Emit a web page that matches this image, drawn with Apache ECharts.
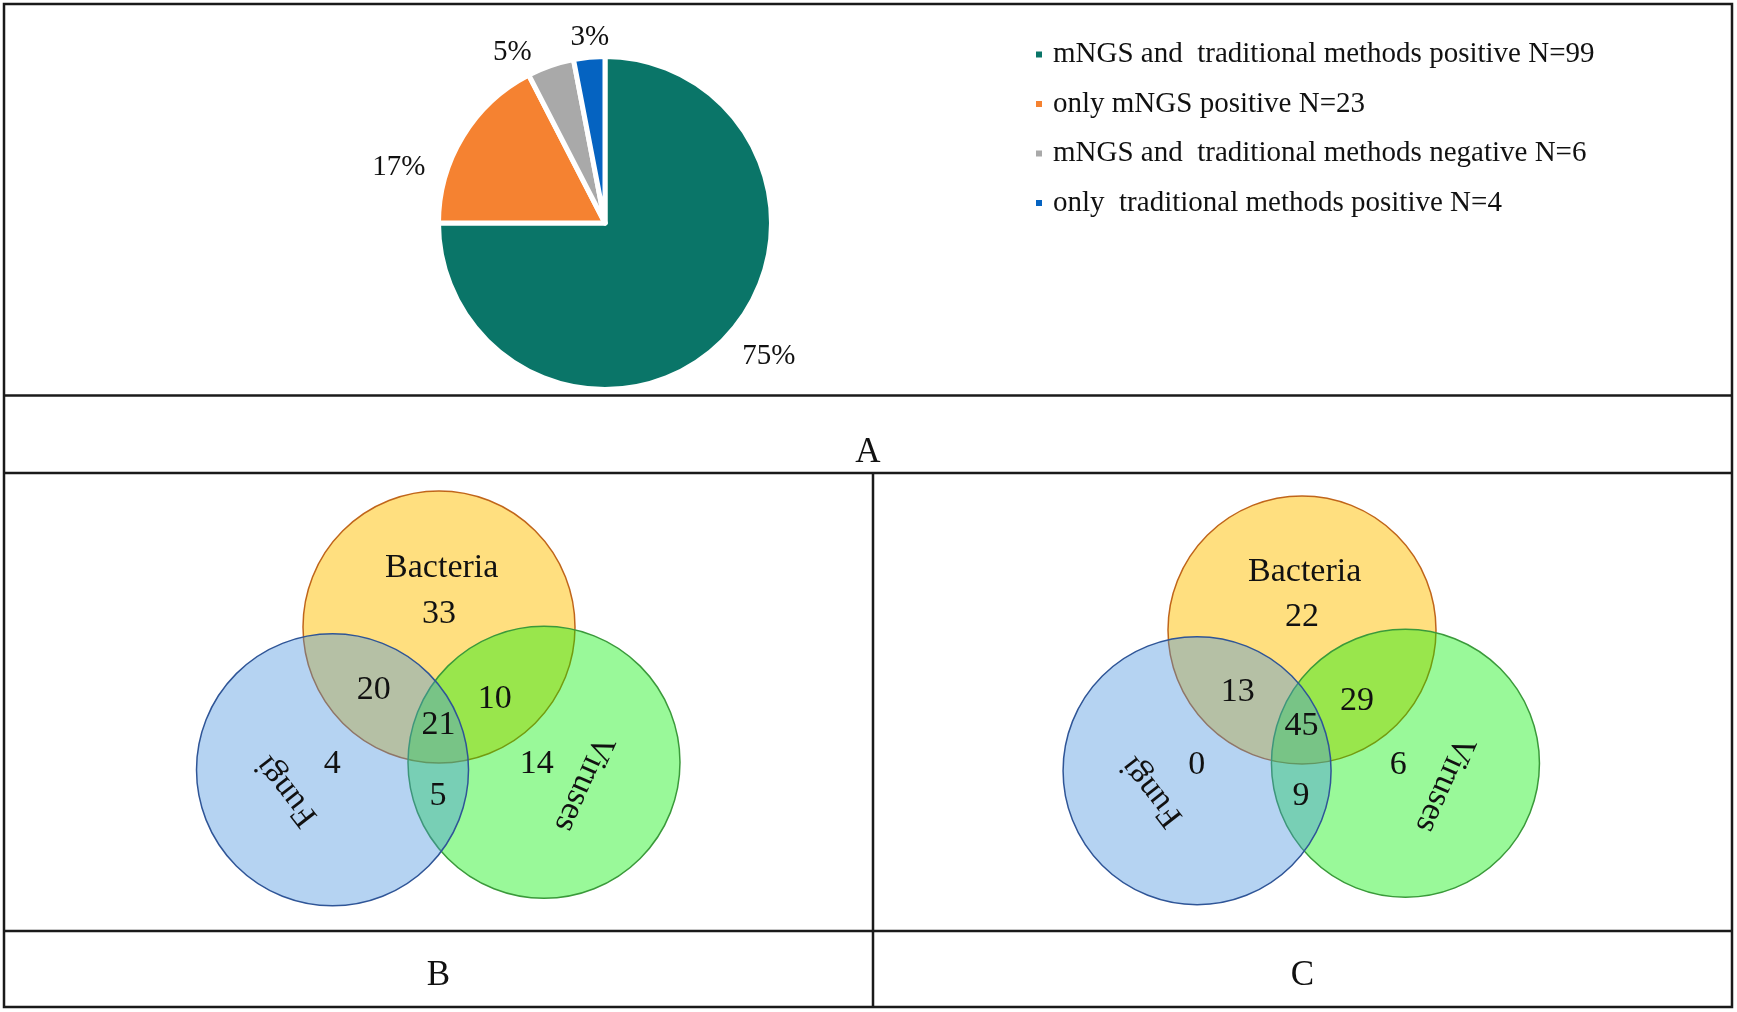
<!DOCTYPE html>
<html><head><meta charset="utf-8">
<script src="https://cdn.jsdelivr.net/npm/echarts@6/dist/echarts.min.js"></script>
<style>html,body{margin:0;padding:0;background:#fff}#c{width:1737px;height:1012px}</style>
</head><body><div id="c"></div>
<script>
// ---------- data ----------
const pieCategories = ['mNGS and  traditional methods positive N=99', 'only mNGS positive N=23', 'mNGS and  traditional methods negative N=6', 'only  traditional methods positive N=4'];
const pieValues = [99, 23, 6, 4];
const vennSets = ['Bacteria', 'Fungi', 'Viruses'];
const vennRegions = ['Bacteria only', 'Bacteria & Fungi', 'Bacteria & Viruses', 'All three', 'Fungi only', 'Viruses only', 'Fungi & Viruses'];
const vennCountsB = [33, 20, 10, 21, 4, 14, 5];
const vennCountsC = [22, 13, 29, 45, 0, 6, 9];
const panelLabels = ['A', 'B', 'C'];

// ---------- styles & layout ----------
const FONT = '"Liberation Serif", "Times New Roman", serif';
const pieColors = ['#0A7568', '#F58231', '#A9A9A9', '#0563C1'];
const pieLabelShift = [[0, 7], [-21, 37], [35, -24], [32, -8]];
const setCenters = [[0, 0], [-0.783, 1.05], [0.772, 0.995]];
const setFill = ['rgba(255,192,0,0.5)', 'rgba(70,145,222,0.4)', 'rgba(0,240,0,0.4)'];
const setStroke = ['#C0651A', '#2F5597', '#3A9A3A'];
const drawOrder = [0, 2, 1];
const setLabelPos = [[0.02, -0.435], [-1.12, 1.205], [1.063, 1.152]];
const setLabelRot = [0, 128, -114];
const regionLabelPos = [[0, -0.095], [-0.48, 0.467], [0.41, 0.53], [-0.004, 0.72], [-0.785, 1.01], [0.718, 1.01], [-0.007, 1.24]];
const vennPanels = [{cx: 439, cy: 627, r: 136, counts: vennCountsB}, {cx: 1302, cy: 630, r: 134, counts: vennCountsC}];

const total = pieValues.reduce((a, b) => a + b, 0);
const chart = echarts.init(document.getElementById('c'), null, {renderer: 'canvas'});

const grids = [], xAxes = [], yAxes = [], series = [];
vennPanels.forEach((p, k) => {
  grids.push({left: p.cx - 3 * p.r, top: p.cy - 1.5 * p.r, width: 6 * p.r, height: 4 * p.r, show: false});
  xAxes.push({gridIndex: k, type: 'value', min: -3, max: 3, show: false});
  yAxes.push({gridIndex: k, type: 'value', min: -1.5, max: 2.5, inverse: true, show: false});
  series.push({
    type: 'custom', xAxisIndex: k, yAxisIndex: k, silent: true, clip: false, z: 2,
    data: drawOrder.map(i => [setCenters[i][0], setCenters[i][1], i]),
    renderItem: (params, api) => {
      const i = api.value(2);
      const c = api.coord([api.value(0), api.value(1)]);
      const r = api.size([1, 0])[0];
      return {type: 'circle', shape: {cx: c[0], cy: c[1], r: r}, style: {fill: setFill[i], stroke: setStroke[i], lineWidth: 1.5}};
    }
  });
  const texts = [];
  vennSets.forEach((s, i) => texts.push([setLabelPos[i][0], setLabelPos[i][1], s, setLabelRot[i]]));
  p.counts.forEach((v, i) => texts.push([regionLabelPos[i][0], regionLabelPos[i][1], String(v), 0]));
  series.push({
    type: 'custom', xAxisIndex: k, yAxisIndex: k, silent: true, clip: false, z: 3,
    data: texts,
    renderItem: (params, api) => {
      const d = texts[params.dataIndex];
      const c = api.coord([d[0], d[1]]);
      return {type: 'text', x: c[0], y: c[1], rotation: d[3] * Math.PI / 180,
        style: {text: d[2], fontSize: 34, fontFamily: FONT, fill: '#111', align: 'center', verticalAlign: 'middle'}};
    }
  });
});

series.push({
  type: 'pie', center: [605, 223], radius: 166.5, startAngle: 90, clockwise: true, silent: true,
  data: pieValues.map((v, i) => ({name: pieCategories[i], value: v, itemStyle: {color: pieColors[i]}})),
  itemStyle: {borderColor: '#fff', borderWidth: 5},
  label: {show: true, position: 'outside', formatter: p => Math.round(p.value / total * 100) + '%', fontSize: 29, fontFamily: FONT, color: '#111'},
  labelLine: {show: false, length: 12, length2: 6},
  labelLayout: params => ({dx: pieLabelShift[params.dataIndex][0], dy: pieLabelShift[params.dataIndex][1]}),
  emphasis: {disabled: true}
});

const L = 2.5, LC = '#1a1a1a';
const line = (x1, y1, x2, y2) => ({type: 'line', shape: {x1, y1, x2, y2}, style: {stroke: LC, lineWidth: L}, silent: true});
const txt = (x, y, t) => ({type: 'text', x, y, style: {text: t, fontSize: 35, fontFamily: FONT, fill: '#111', align: 'center', verticalAlign: 'middle'}, silent: true});

chart.setOption({
  animation: false,
  backgroundColor: '#fff',
  grid: grids, xAxis: xAxes, yAxis: yAxes,
  legend: {orient: 'vertical', left: 1034, top: 40, padding: 0, icon: 'rect', itemWidth: 8, itemHeight: 8, itemGap: 20.5,
    selectedMode: false, data: pieCategories,
    textStyle: {fontSize: 29, fontFamily: FONT, color: '#111', lineHeight: 29, padding: [0, 0, 0, 5]}},
  series: series,
  graphic: [
    {type: 'rect', shape: {x: 4, y: 4, width: 1728, height: 1003}, style: {fill: 'none', stroke: LC, lineWidth: L}, silent: true},
    line(4, 395.5, 1732, 395.5), line(4, 473, 1732, 473), line(4, 931, 1732, 931), line(873, 473, 873, 1007),
    txt(868, 452.5, panelLabels[0]), txt(438.5, 975.5, panelLabels[1]), txt(1302.5, 975.5, panelLabels[2])
  ]
});
</script></body></html>
